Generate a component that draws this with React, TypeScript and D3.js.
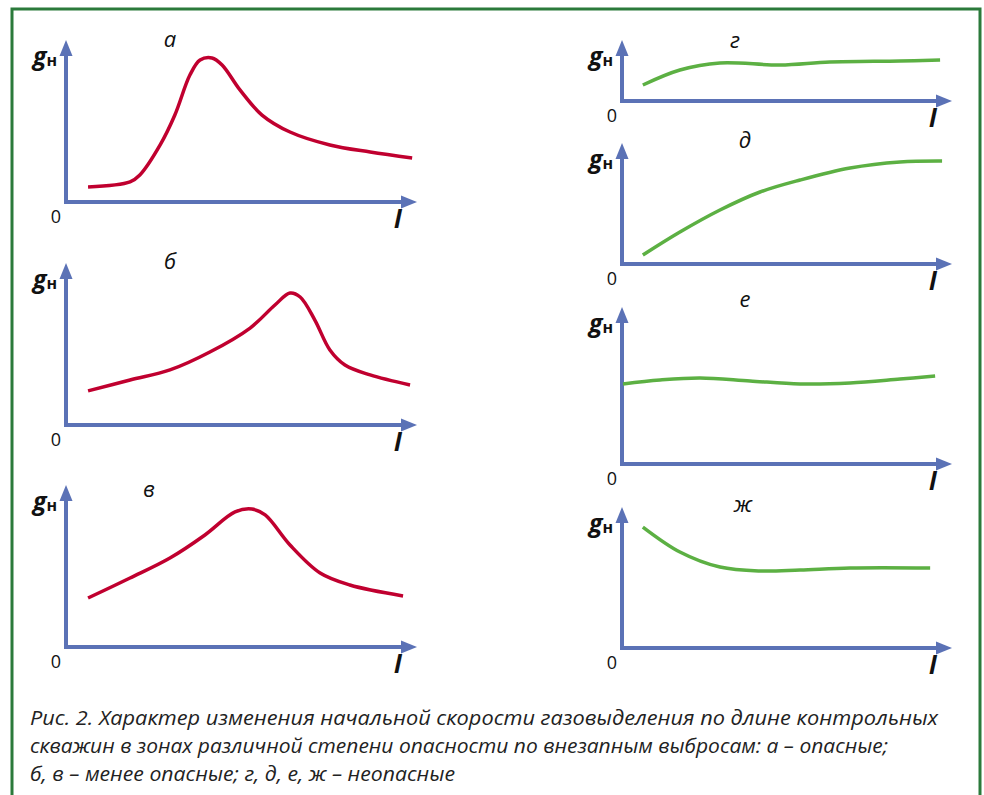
// Рис. 2 — характер изменения начальной скорости газовыделения
import { useRef, useEffect } from "react";
import { select, scaleLinear, line, curveCatmullRom } from "d3";

type Pt = [number, number];

// кривые: [l, gн] в условных единицах 0..10
const curveA: Pt[] = [
  [0.63, 0.81], [1.83, 1.13], [2.11, 1.56], [2.69, 3.44], [3.11, 5.31], [3.54, 7.81],
  [3.83, 8.75], [4.17, 8.88], [4.46, 8.44], [4.97, 6.88], [5.6, 5.31],
  [6.4, 4.25], [7.54, 3.44], [8.69, 3.0], [9.89, 2.63],
];
const curveB: Pt[] = [
  [0.63, 2.13], [1.83, 2.81], [2.97, 3.44], [4.11, 4.56], [5.26, 6.06],
  [5.97, 7.5], [6.4, 8.25], [6.69, 8.0], [7.11, 6.56], [7.54, 4.69],
  [7.97, 3.75], [8.69, 3.13], [9.83, 2.5],
];
const curveV: Pt[] = [
  [0.63, 3.0], [1.83, 4.25], [2.97, 5.5], [3.97, 6.94], [4.83, 8.38],
  [5.31, 8.56], [5.69, 8.19], [6.4, 6.31], [7.26, 4.56], [8.11, 3.81], [9.63, 3.13],
];
const curveG: Pt[] = [
  [0.66, 2.5], [1.78, 5.0], [2.99, 6.17], [4.8, 5.83], [6.31, 6.33], [8.43, 6.5], [9.64, 6.67],
];
const curveD: Pt[] = [
  [0.66, 0.74], [1.78, 2.64], [2.99, 4.46], [4.2, 5.95], [5.41, 6.94],
  [6.92, 7.93], [8.43, 8.43], [9.7, 8.51],
];
const curveE: Pt[] = [
  [0.06, 5.1], [1.18, 5.35], [2.39, 5.48], [3.9, 5.29], [5.41, 5.1],
  [6.92, 5.16], [8.43, 5.41], [9.49, 5.6],
];
const curveZh: Pt[] = [
  [0.66, 8.58], [1.78, 6.81], [2.99, 5.74], [4.2, 5.46], [5.41, 5.53], [6.92, 5.67], [9.34, 5.67],
];

const panelTitles = ["а", "б", "в", "г", "д", "е", "ж"];
const caption = [
  "Рис. 2. Характер изменения начальной скорости газовыделения по длине контрольных",
  "скважин в зонах различной степени опасности по внезапным выбросам: а – опасные;",
  "б, в – менее опасные; г, д, е, ж – неопасные",
];

const RED = "#c0002f";
const GREEN = "#5cb043";
const AXIS = "#5b72b6";

// раскладка панелей: оси, диапазоны шкал, положение буквы
const layout = [
  { x0: 66, x1: 417, yBase: 202, yTop: 40, xr: [66, 416], yr: [200, 40], tx: 170, ty: 47, curve: curveA, color: RED },
  { x0: 66, x1: 417, yBase: 425, yTop: 263, xr: [66, 416], yr: [425, 265], tx: 170, ty: 269, curve: curveB, color: RED },
  { x0: 66, x1: 417, yBase: 647, yTop: 485, xr: [66, 416], yr: [646, 486], tx: 149, ty: 497, curve: curveV, color: RED },
  { x0: 622, x1: 952, yBase: 101, yTop: 40, xr: [621, 952], yr: [100, 40], tx: 735, ty: 48, curve: curveG, color: GREEN },
  { x0: 622, x1: 952, yBase: 264, yTop: 143, xr: [621, 952], yr: [264, 143], tx: 745, ty: 148, curve: curveD, color: GREEN },
  { x0: 622, x1: 952, yBase: 464, yTop: 307, xr: [621, 952], yr: [464, 307], tx: 745, ty: 307, curve: curveE, color: GREEN },
  { x0: 622, x1: 952, yBase: 648, yTop: 507, xr: [621, 952], yr: [648, 507], tx: 743, ty: 512, curve: curveZh, color: GREEN },
];

const W = 984;
const H = 795;
const FONT = "'Open Sans', 'DejaVu Sans', sans-serif";

export default function App() {
  const ref = useRef<SVGSVGElement>(null);

  useEffect(() => {
    if (!ref.current) return;
    const svg = select(ref.current);
    svg.selectAll("*").remove();

    svg.append("rect").attr("width", W).attr("height", H).attr("fill", "#fff");

    // рамка
    svg
      .append("rect")
      .attr("x", 12)
      .attr("y", 9)
      .attr("width", 968)
      .attr("height", 800)
      .attr("fill", "none")
      .attr("stroke", "#2b7a3b")
      .attr("stroke-width", 3);

    layout.forEach((p, i) => {
      const g = svg.append("g");
      const x = scaleLinear().domain([0, 10]).range(p.xr);
      const y = scaleLinear().domain([0, 10]).range(p.yr);

      const ax0 = p.x0;
      const ay0 = p.yBase;

      // оси
      g.append("line")
        .attr("x1", ax0).attr("y1", ay0)
        .attr("x2", ax0).attr("y2", p.yTop + 12)
        .attr("stroke", AXIS).attr("stroke-width", 4);
      g.append("line")
        .attr("x1", ax0 - 2).attr("y1", ay0)
        .attr("x2", p.x1 - 12).attr("y2", ay0)
        .attr("stroke", AXIS).attr("stroke-width", 4);
      // стрелки
      g.append("path")
        .attr("d", `M${ax0},${p.yTop} L${ax0 + 6.5},${p.yTop + 16} L${ax0 - 6.5},${p.yTop + 16} Z`)
        .attr("fill", AXIS);
      g.append("path")
        .attr("d", `M${p.x1},${ay0} L${p.x1 - 16},${ay0 - 6.5} L${p.x1 - 16},${ay0 + 6.5} Z`)
        .attr("fill", AXIS);

      // кривая
      const gen = line<Pt>()
        .x((d) => x(d[0]))
        .y((d) => y(d[1]))
        .curve(curveCatmullRom.alpha(0.5));
      g.append("path")
        .datum(p.curve)
        .attr("d", gen)
        .attr("fill", "none")
        .attr("stroke", p.color)
        .attr("stroke-width", 3.5)
        .attr("stroke-linecap", "butt");

      // подписи
      const gl = g.append("text")
        .attr("x", ax0 - 33)
        .attr("y", p.yTop + 25)
        .attr("font-family", FONT)
        .attr("fill", "#111");
      gl.append("tspan")
        .attr("font-size", 25)
        .attr("font-style", "italic")
        .attr("font-weight", "bold")
        .text("g");
      gl.append("tspan")
        .attr("font-size", 16)
        .attr("font-weight", "bold")
        .attr("dy", 1)
        .text("н");

      g.append("text")
        .attr("x", ax0 - 10)
        .attr("y", ay0 + 21)
        .attr("text-anchor", "middle")
        .attr("font-family", FONT)
        .attr("font-size", 18)
        .attr("fill", "#111")
        .text("0");

      g.append("text")
        .attr("x", p.x1 - 23)
        .attr("y", ay0 + 26)
        .attr("font-family", FONT)
        .attr("font-size", 25)
        .attr("font-style", "italic")
        .attr("font-weight", "bold")
        .attr("fill", "#111")
        .text("l");

      g.append("text")
        .attr("x", p.tx)
        .attr("y", p.ty)
        .attr("text-anchor", "middle")
        .attr("font-family", FONT)
        .attr("font-size", 22)
        .attr("font-style", "italic")
        .attr("fill", "#111")
        .text(panelTitles[i]);
    });

    // подпись к рисунку
    const capLen = [908, 858, 425];
    caption.forEach((t, i) => {
      svg
        .append("text")
        .attr("x", 30)
        .attr("y", 725 + i * 28)
        .attr("font-family", FONT)
        .attr("font-size", 20.5)
        .attr("font-style", "italic")
        .attr("fill", "#222")
        .attr("textLength", capLen[i])
        .attr("lengthAdjust", "spacingAndGlyphs")
        .text(t);
    });
  }, []);

  return (
    <svg
      ref={ref}
      width={W}
      height={H}
      style={{ position: "absolute", left: 0, top: 0 }}
    />
  );
}
